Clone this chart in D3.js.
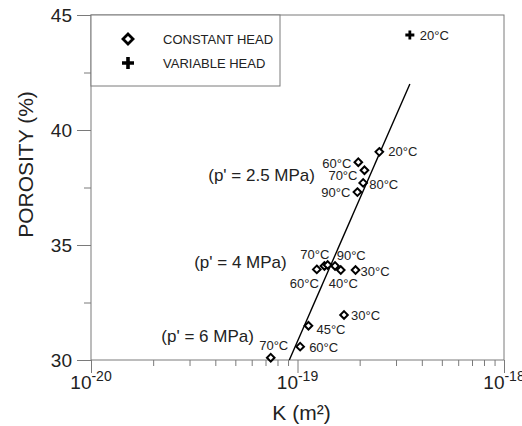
<!DOCTYPE html>
<html>
<head>
<meta charset="utf-8">
<script src="https://cdn.jsdelivr.net/npm/d3@7"></script>
<style>
  body { margin: 0; background: #fff; }
  svg { display: block; font-family: "Liberation Sans", Arial, sans-serif; }
</style>
</head>
<body>
<svg id="chart" width="522" height="426"></svg>
<script>
// constant head, p' = 2.5 MPa
var k25 = [2.49e-19, 1.97e-19, 2.11e-19, 2.08e-19, 1.95e-19];
var phi25 = [39.05, 38.6, 38.25, 37.7, 37.3];
var temp25 = ["20°C", "60°C", "70°C", "80°C", "90°C"];

// constant head, p' = 4 MPa
var k4 = [1.24e-19, 1.35e-19, 1.40e-19, 1.52e-19, 1.62e-19, 1.91e-19];
var phi4 = [33.94, 34.09, 34.13, 34.09, 33.91, 33.91];
var temp4 = ["60°C", "70°C", "90°C", "", "40°C", "30°C"];

// constant head, p' = 6 MPa
var k6 = [7.42e-20, 1.03e-19, 1.13e-19, 1.68e-19];
var phi6 = [30.1, 30.58, 31.49, 31.96];
var temp6 = ["70°C", "60°C", "45°C", "30°C"];

// variable head
var kVar = [3.5e-19];
var phiVar = [44.13];
var tempVar = ["20°C"];

// fitted line
var fitK = [9.13e-20, 3.5e-19];
var fitPhi = [30, 42];

var groupNames = ["(p' = 2.5 MPa)", "(p' = 4 MPa)", "(p' = 6 MPa)"];
var groupK = [1.215e-19, 8.87e-20, 6.15e-20];
var groupPhi = [37.78, 34.01, 30.78];

var xTickExp = [-20, -19, -18];
var yTicks = [30, 35, 40, 45];
var yMinor = [32.5, 37.5, 42.5];
var legendNames = ["CONSTANT HEAD", "VARIABLE HEAD"];

// label placement (pixels from the point: dx, dy, anchor)
var lab25 = [[9, 0, "start"], [-7, 1, "end"], [-7, 5, "end"], [6, 2, "start"], [-7, 0, "end"]];
var lab4 = [[2, 14, "end"], [5, -11, "end"], [9, -10, "start"], [0, 0, "start"], [-12, 13, "start"], [5, 1, "start"]];
var lab6 = [[3, -12, "middle"], [9, 1, "start"], [8, 4, "start"], [7, 1, "start"]];
var labVar = [[10, 0, "start"]];

var margin = { top: 15, right: 18, bottom: 66, left: 91 },
  width = 522 - margin.left - margin.right,
  height = 426 - margin.top - margin.bottom;

var svg = d3.select("#chart");
var g = svg.append("g").attr("transform", "translate(" + margin.left + "," + margin.top + ")");

var x = d3.scaleLog().domain([1e-20, 1e-18]).range([0, width]);
var y = d3.scaleLinear().domain([30, 45]).range([height, 0]);

var axisColor = "#7a7a7a";

// minor ticks on x
var minorX = [];
[-20, -19].forEach(function (e) {
  for (var m = 2; m <= 9; m++) minorX.push(m * Math.pow(10, e));
});

function styleAxis(sel) {
  sel.select(".domain").remove();
  sel.selectAll("line").attr("stroke", axisColor);
}

g.append("g")
  .attr("transform", "translate(0," + height + ")")
  .call(d3.axisBottom(x).tickValues(minorX).tickSize(6).tickFormat(""))
  .call(styleAxis);
g.append("g")
  .attr("transform", "translate(0," + height + ")")
  .call(d3.axisBottom(x).tickValues(xTickExp.map(function (e) { return Math.pow(10, e); })).tickSize(13).tickFormat(""))
  .call(styleAxis);

g.append("g")
  .call(d3.axisLeft(y).tickValues(yMinor).tickSize(7).tickFormat(""))
  .call(styleAxis);
var yAx = g.append("g")
  .call(d3.axisLeft(y).tickValues(yTicks).tickSize(14).tickPadding(5))
  .call(styleAxis);
yAx.selectAll("text")
  .attr("fill", "#222")
  .style("font-size", "19px")
  .style("font-family", "'Liberation Sans', Arial, sans-serif");

// frame
g.append("rect")
  .attr("width", width)
  .attr("height", height)
  .attr("fill", "none")
  .attr("stroke", axisColor)
  .attr("stroke-width", 1);

// x tick labels with superscript
var xl = g.selectAll(".xlab")
  .data(xTickExp)
  .enter()
  .append("text")
  .attr("class", "xlab")
  .attr("x", function (d) { return x(Math.pow(10, d)); })
  .attr("y", height + 29)
  .attr("text-anchor", "middle")
  .attr("fill", "#222")
  .style("font-size", "19px");
xl.append("tspan").text("10");
xl.append("tspan")
  .attr("dy", -8)
  .style("font-size", "14px")
  .text(function (d) { return d; });

// axis titles
g.append("text")
  .attr("x", 210.5)
  .attr("y", height + 60)
  .attr("text-anchor", "middle")
  .attr("fill", "#222")
  .style("font-size", "21px")
  .text("K (m²)");

g.append("text")
  .attr("transform", "translate(" + (-58) + "," + (y(38.5)) + ") rotate(-90)")
  .attr("text-anchor", "middle")
  .attr("fill", "#222")
  .style("font-size", "21px")
  .text("POROSITY (%)");

// legend
g.append("rect")
  .attr("width", 189)
  .attr("height", 71)
  .attr("fill", "#fff")
  .attr("stroke", axisColor);

function diamond(r) {
  return "M0," + -r + "L" + r + ",0L0," + r + "L" + -r + ",0Z";
}
function plus(r) {
  return "M" + -r + ",0H" + r + "M0," + -r + "V" + r;
}

g.append("path")
  .attr("transform", "translate(37,24)")
  .attr("d", diamond(5))
  .attr("fill", "#fff")
  .attr("stroke", "#000")
  .attr("stroke-width", 2.8);
g.append("path")
  .attr("transform", "translate(37,48)")
  .attr("d", plus(6))
  .attr("stroke", "#000")
  .attr("stroke-width", 3.6);
g.selectAll(".legtext")
  .data(legendNames)
  .enter()
  .append("text")
  .attr("class", "legtext")
  .attr("x", 72)
  .attr("y", function (d, i) { return 24 + i * 24; })
  .attr("dy", "0.35em")
  .attr("fill", "#222")
  .style("font-size", "13px")
  .text(function (d) { return d; });

// fitted line
g.append("path")
  .datum(d3.zip(fitK, fitPhi))
  .attr("fill", "none")
  .attr("stroke", "#000")
  .attr("stroke-width", 1.4)
  .attr("d", d3.line()
    .x(function (d) { return x(d[0]); })
    .y(function (d) { return y(d[1]); }));

// constant head points
function drawGroup(ks, phis, temps, labs) {
  var pts = ks.map(function (k, i) {
    return { k: k, phi: phis[i], t: temps[i], lab: labs[i] };
  });
  g.selectAll(null)
    .data(pts)
    .enter()
    .append("path")
    .attr("transform", function (d) { return "translate(" + x(d.k) + "," + y(d.phi) + ")"; })
    .attr("d", diamond(3.8))
    .attr("fill", "#fff")
    .attr("stroke", "#000")
    .attr("stroke-width", 2);
  g.selectAll(null)
    .data(pts.filter(function (d) { return d.t; }))
    .enter()
    .append("text")
    .attr("x", function (d) { return x(d.k) + d.lab[0]; })
    .attr("y", function (d) { return y(d.phi) + d.lab[1]; })
    .attr("dy", "0.35em")
    .attr("text-anchor", function (d) { return d.lab[2]; })
    .attr("fill", "#222")
    .style("font-size", "13px")
    .text(function (d) { return d.t; });
}
drawGroup(k25, phi25, temp25, lab25);
drawGroup(k4, phi4, temp4, lab4);
drawGroup(k6, phi6, temp6, lab6);

// variable head
g.selectAll(null)
  .data(kVar)
  .enter()
  .append("path")
  .attr("transform", function (d, i) { return "translate(" + x(d) + "," + y(phiVar[i]) + ")"; })
  .attr("d", plus(4.5))
  .attr("stroke", "#000")
  .attr("stroke-width", 2.8);
g.selectAll(null)
  .data(kVar)
  .enter()
  .append("text")
  .attr("x", function (d, i) { return x(d) + labVar[i][0]; })
  .attr("y", function (d, i) { return y(phiVar[i]) + labVar[i][1]; })
  .attr("dy", "0.35em")
  .attr("fill", "#222")
  .style("font-size", "13px")
  .text(function (d, i) { return tempVar[i]; });

// pressure group labels
g.selectAll(".grp")
  .data(groupNames)
  .enter()
  .append("text")
  .attr("class", "grp")
  .attr("x", function (d, i) { return x(groupK[i]); })
  .attr("y", function (d, i) { return y(groupPhi[i]); })
  .attr("text-anchor", "end")
  .attr("fill", "#222")
  .style("font-size", "17px")
  .text(function (d) { return d; });
</script>
</body>
</html>
